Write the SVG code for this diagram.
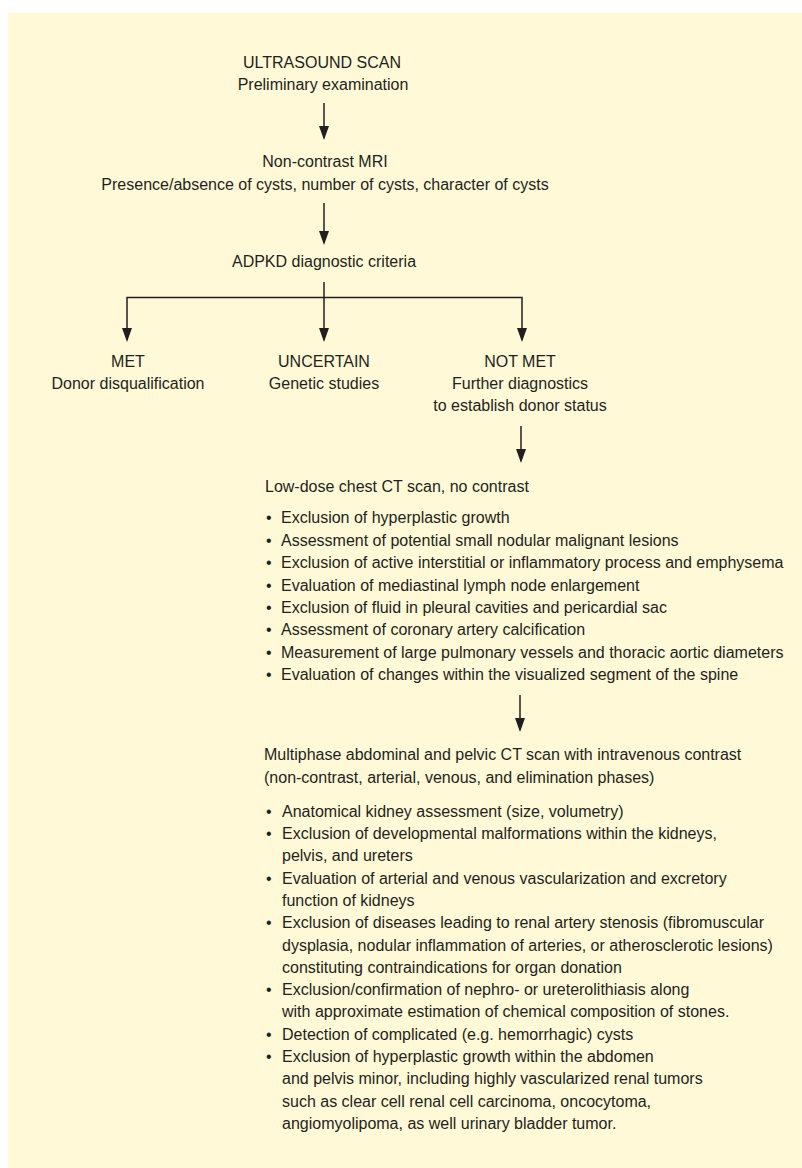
<svg xmlns="http://www.w3.org/2000/svg" width="802" height="1168" viewBox="0 0 802 1168">
  <defs>
    <style>
      .t { font-family: "Liberation Sans", Arial, sans-serif; font-size: 16px; fill: #231F20; }
      .c { text-anchor: middle; }
      .ln { stroke: #231F20; stroke-width: 1.5; fill: none; }
      .arr { marker-end: url(#ah); }
    </style>
    <marker id="ah" viewBox="0 0 14 10" refX="12" refY="5" markerWidth="14" markerHeight="10" markerUnits="userSpaceOnUse" orient="auto">
      <path d="M0,0 L14,5 L0,10 z" fill="#231F20"/>
    </marker>
  </defs>
  <rect x="0" y="0" width="802" height="1168" fill="#FFFFFF"/>
  <rect x="8" y="13" width="794" height="1155" fill="#FFF9D7"/>

  <g id="connectors">
    <line class="ln arr" x1="324" y1="103" x2="324" y2="138"/>
    <line class="ln arr" x1="324" y1="203" x2="324" y2="243"/>
    <line class="ln arr" x1="324" y1="282" x2="324" y2="340"/>
    <polyline class="ln arr" points="324,297.5 127,297.5 127,340"/>
    <polyline class="ln arr" points="324,297.5 522,297.5 522,340"/>
    <line class="ln arr" x1="521" y1="426" x2="521" y2="461"/>
    <line class="ln arr" x1="520" y1="695" x2="520" y2="730"/>
  </g>

  <g id="n-ultrasound">
    <text class="t c" x="322" y="68">ULTRASOUND SCAN</text>
    <text class="t c" x="323" y="90">Preliminary examination</text>
  </g>

  <g id="n-mri">
    <text class="t c" x="325" y="167">Non-contrast MRI</text>
    <text class="t c" x="325" y="190">Presence/absence of cysts, number of cysts, character of cysts</text>
  </g>

  <g id="n-criteria">
    <text class="t c" x="324" y="267">ADPKD diagnostic criteria</text>
  </g>

  <g id="n-met">
    <text class="t c" x="128" y="367">MET</text>
    <text class="t c" x="128" y="389">Donor disqualification</text>
  </g>

  <g id="n-uncertain">
    <text class="t c" x="324" y="367">UNCERTAIN</text>
    <text class="t c" x="324" y="389">Genetic studies</text>
  </g>

  <g id="n-notmet">
    <text class="t c" x="520" y="367">NOT MET</text>
    <text class="t c" x="520" y="389">Further diagnostics</text>
    <text class="t c" x="520" y="411">to establish donor status</text>
  </g>

  <g id="n-chestct">
    <text class="t" x="265" y="492">Low-dose chest CT scan, no contrast</text>
    <text class="t" x="266" y="523">•</text><text class="t" x="281" y="523">Exclusion of hyperplastic growth</text>
    <text class="t" x="266" y="546">•</text><text class="t" x="281" y="546">Assessment of potential small nodular malignant lesions</text>
    <text class="t" x="266" y="568">•</text><text class="t" x="281" y="568">Exclusion of active interstitial or inflammatory process and emphysema</text>
    <text class="t" x="266" y="591">•</text><text class="t" x="281" y="591">Evaluation of mediastinal lymph node enlargement</text>
    <text class="t" x="266" y="613">•</text><text class="t" x="281" y="613">Exclusion of fluid in pleural cavities and pericardial sac</text>
    <text class="t" x="266" y="635">•</text><text class="t" x="281" y="635">Assessment of coronary artery calcification</text>
    <text class="t" x="266" y="658">•</text><text class="t" x="281" y="658">Measurement of large pulmonary vessels and thoracic aortic diameters</text>
    <text class="t" x="266" y="680">•</text><text class="t" x="281" y="680">Evaluation of changes within the visualized segment of the spine</text>
  </g>

  <g id="n-abdct">
    <text class="t" x="264" y="760">Multiphase abdominal and pelvic CT scan with intravenous contrast</text>
    <text class="t" x="264" y="783">(non-contrast, arterial, venous, and elimination phases)</text>
    <text class="t" x="266" y="817">•</text><text class="t" x="282" y="817">Anatomical kidney assessment (size, volumetry)</text>
    <text class="t" x="266" y="839">•</text><text class="t" x="282" y="839">Exclusion of developmental malformations within the kidneys,</text>
    <text class="t" x="282" y="861">pelvis, and ureters</text>
    <text class="t" x="266" y="884">•</text><text class="t" x="282" y="884">Evaluation of arterial and venous vascularization and excretory</text>
    <text class="t" x="282" y="906">function of kidneys</text>
    <text class="t" x="266" y="928">•</text><text class="t" x="282" y="928">Exclusion of diseases leading to renal artery stenosis (fibromuscular</text>
    <text class="t" x="282" y="951">dysplasia, nodular inflammation of arteries, or atherosclerotic lesions)</text>
    <text class="t" x="282" y="973">constituting contraindications for organ donation</text>
    <text class="t" x="266" y="995">•</text><text class="t" x="282" y="995">Exclusion/confirmation of nephro- or ureterolithiasis along</text>
    <text class="t" x="282" y="1017">with approximate estimation of chemical composition of stones.</text>
    <text class="t" x="266" y="1040">•</text><text class="t" x="282" y="1040">Detection of complicated (e.g. hemorrhagic) cysts</text>
    <text class="t" x="266" y="1062">•</text><text class="t" x="282" y="1062">Exclusion of hyperplastic growth within the abdomen</text>
    <text class="t" x="282" y="1084">and pelvis minor, including highly vascularized renal tumors</text>
    <text class="t" x="282" y="1107">such as clear cell renal cell carcinoma, oncocytoma,</text>
    <text class="t" x="282" y="1129">angiomyolipoma, as well urinary bladder tumor.</text>
  </g>
</svg>
